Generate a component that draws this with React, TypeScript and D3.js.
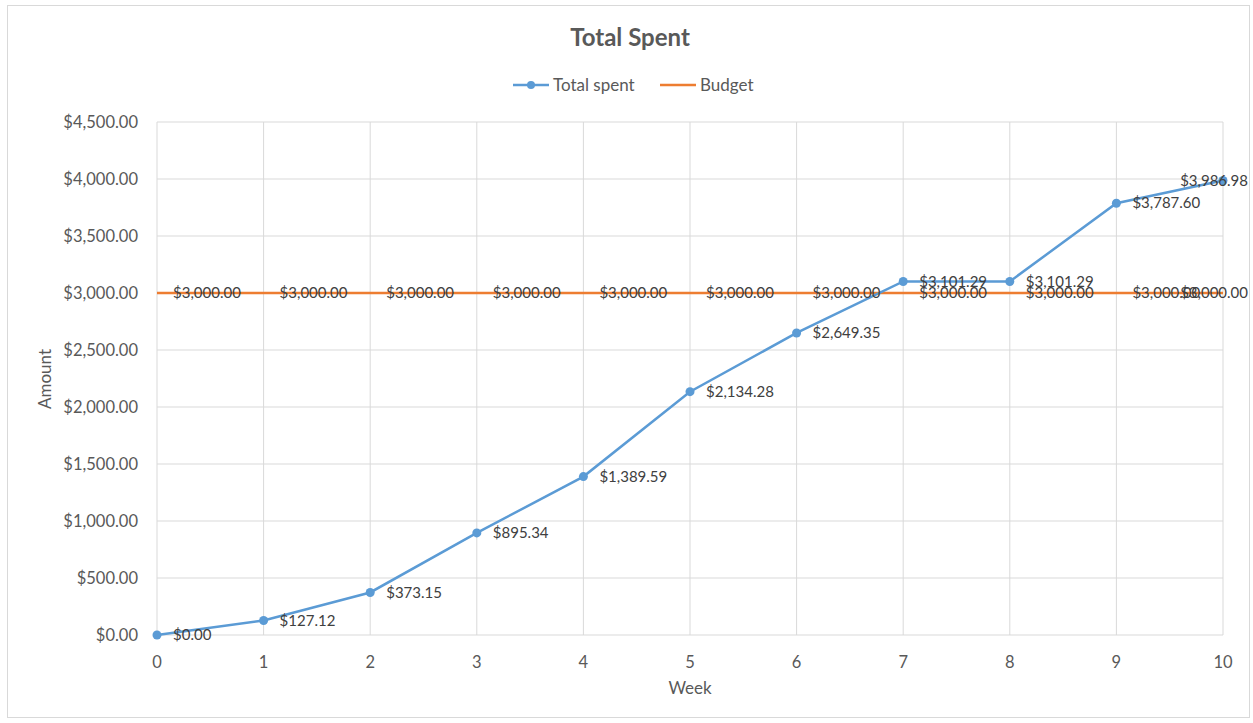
import React from "react";
import * as d3 from "d3";

const weeks = [0, 1, 2, 3, 4, 5, 6, 7, 8, 9, 10];
const totalSpent = [0, 127.12, 373.15, 895.34, 1389.59, 2134.28, 2649.35, 3101.29, 3101.29, 3787.6, 3986.98];
const budget = [3000, 3000, 3000, 3000, 3000, 3000, 3000, 3000, 3000, 3000, 3000];
const yTicks = [0, 500, 1000, 1500, 2000, 2500, 3000, 3500, 4000, 4500];

const W = 1253;
const H = 723;
const FONT = "Lato, 'Open Sans', sans-serif";
const TEXT = "#595959";
const BLUE = "#5B9BD5";
const ORANGE = "#ED7D31";
const GRID = "#D9D9D9";

export default function App() {
  const x = d3.scaleLinear().domain([0, 10]).range([157, 1223]);
  const y = d3.scaleLinear().domain([0, 4500]).range([635, 122]);
  const money = (v: number) => "$" + d3.format(",.2f")(v);
  const line = d3
    .line<number>()
    .x((_, i) => x(weeks[i]))
    .y((d) => y(d));
  const chartRight = 1250;

  const label = (v: number, i: number, key: string, color: string) => {
    const px = x(weeks[i]) + 16;
    const last = i === weeks.length - 1;
    return (
      <text
        key={key}
        x={last ? chartRight - 2 : px}
        y={y(v)}
        dy="0.35em"
        textAnchor={last ? "end" : "start"}
        fontSize={15}
        fill={color}
        fontFamily={FONT}
      >
        {money(v)}
      </text>
    );
  };

  return (
    <svg
      width={W}
      height={H}
      style={{ position: "absolute", left: 0, top: 0, background: "#fff" }}
    >
      <rect x={7.5} y={5.5} width={1242} height={712} fill="#fff" stroke="#D9D9D9" />
      {/* grid */}
      {yTicks.map((t) => (
        <line key={"gy" + t} x1={x(0)} x2={x(10)} y1={y(t)} y2={y(t)} stroke={GRID} />
      ))}
      {weeks.map((w) => (
        <line key={"gx" + w} x1={x(w)} x2={x(w)} y1={y(0)} y2={y(4500)} stroke={GRID} />
      ))}
      {/* y tick labels */}
      {yTicks.map((t) => (
        <text
          key={"yt" + t}
          x={138}
          y={y(t)}
          dy="0.35em"
          textAnchor="end"
          fontSize={16.5}
          fill={TEXT}
          fontFamily={FONT}
        >
          {money(t)}
        </text>
      ))}
      {/* x tick labels */}
      {weeks.map((w) => (
        <text
          key={"xt" + w}
          x={x(w)}
          y={662}
          dy="0.35em"
          textAnchor="middle"
          fontSize={16.5}
          fill={TEXT}
          fontFamily={FONT}
        >
          {w}
        </text>
      ))}
      {/* axis titles */}
      <text x={690} y={688} dy="0.35em" textAnchor="middle" fontSize={17} fill={TEXT} fontFamily={FONT}>
        Week
      </text>
      <text
        transform={`translate(45,379) rotate(-90)`}
        dy="0.35em"
        textAnchor="middle"
        fontSize={17}
        fill={TEXT}
        fontFamily={FONT}
      >
        Amount
      </text>
      {/* title */}
      <text x={630} y={38} dy="0.35em" textAnchor="middle" fontSize={24} fontWeight="bold" fill={TEXT} fontFamily={FONT}>
        Total Spent
      </text>
      {/* legend */}
      <line x1={513} x2={549} y1={85} y2={85} stroke={BLUE} strokeWidth={2.5} />
      <circle cx={531} cy={85} r={4} fill={BLUE} />
      <text x={553} y={85} dy="0.35em" fontSize={17} fill={TEXT} fontFamily={FONT}>
        Total spent
      </text>
      <line x1={660} x2={696} y1={85} y2={85} stroke={ORANGE} strokeWidth={2.5} />
      <text x={700} y={85} dy="0.35em" fontSize={17} fill={TEXT} fontFamily={FONT}>
        Budget
      </text>
      {/* series */}
      <path d={line(budget) || ""} fill="none" stroke={ORANGE} strokeWidth={2.5} />
      <path d={line(totalSpent) || ""} fill="none" stroke={BLUE} strokeWidth={2.5} />
      {totalSpent.map((v, i) => (
        <circle key={"pt" + i} cx={x(weeks[i])} cy={y(v)} r={4.5} fill={BLUE} />
      ))}
      {/* data labels */}
      {budget.map((v, i) => label(v, i, "bl" + i, "#404040"))}
      {totalSpent.map((v, i) => label(v, i, "tl" + i, "#404040"))}
    </svg>
  );
}
